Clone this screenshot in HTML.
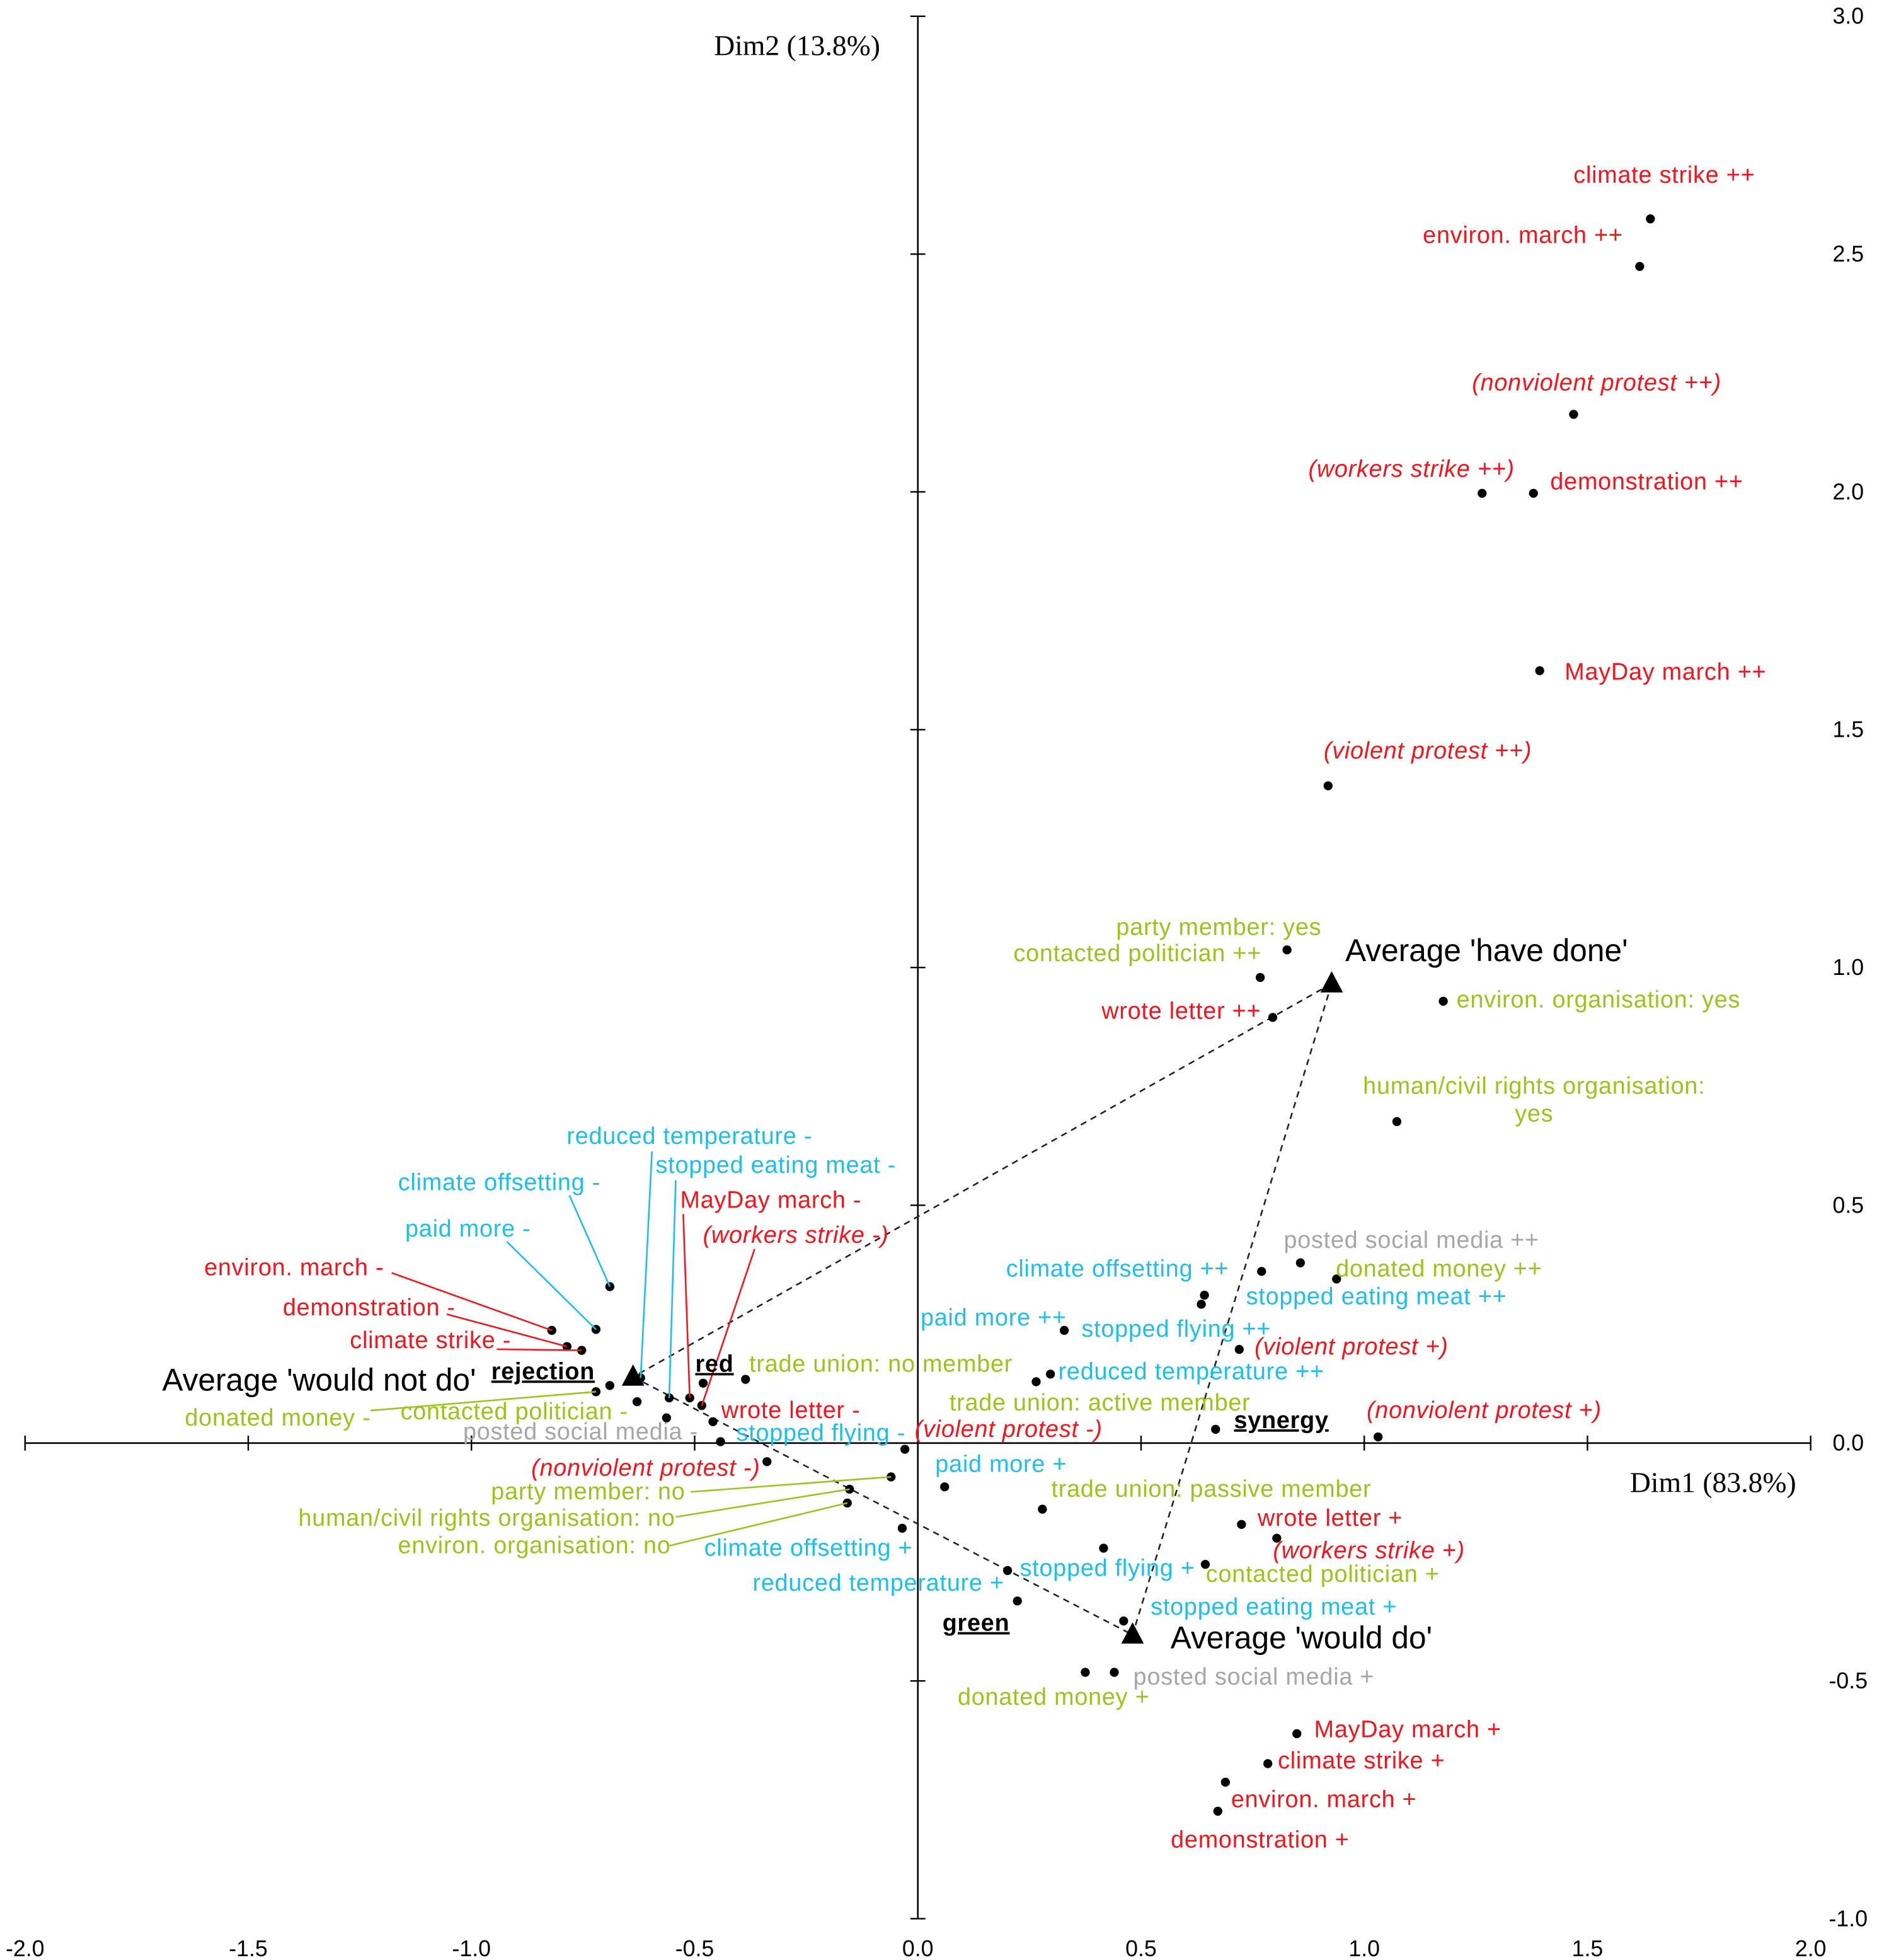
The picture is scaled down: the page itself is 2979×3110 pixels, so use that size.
<!DOCTYPE html>
<html><head><meta charset="utf-8"><style>
html,body{margin:0;padding:0;background:#fff;}
svg{display:block;font-family:"Liberation Sans",sans-serif;}
</style></head><body>
<svg id="chart" width="2979" height="3110" viewBox="0 0 1500 1566" xmlns="http://www.w3.org/2000/svg">
<g id="axes"></g>
<g id="lines"></g>
<g id="marks"></g>
<g id="labels"></g>
</svg>
<script>
const xTicks = [-2.0,-1.5,-1.0,-0.5,0.0,0.5,1.0,1.5,2.0];
const yTicks = [-1.0,-0.5,0.0,0.5,1.0,1.5,2.0,2.5,3.0];
// point names, coordinates (Dim1, Dim2), colour group
const names = ["climate strike ++","environ. march ++","(nonviolent protest ++)","(workers strike ++)","demonstration ++","MayDay march ++","(violent protest ++)","wrote letter ++","party member: yes","contacted politician ++","environ. organisation: yes","human/civil rights organisation: yes","posted social media ++","donated money ++","climate offsetting ++","stopped eating meat ++","stopped flying ++","paid more ++","(violent protest +)","reduced temperature ++","trade union: active member","(nonviolent protest +)","synergy","paid more +","trade union: passive member","wrote letter +","(workers strike +)","contacted politician +","stopped flying +","stopped eating meat +","reduced temperature +","climate offsetting +","green","donated money +","posted social media +","MayDay march +","climate strike +","environ. march +","demonstration +","climate offsetting -","paid more -","environ. march -","demonstration -","climate strike -","reduced temperature -","stopped eating meat -","MayDay march -","(workers strike -)","rejection","red","trade union: no member","donated money -","contacted politician -","wrote letter -","posted social media -","stopped flying -","(violent protest -)","(nonviolent protest -)","party member: no","human/civil rights organisation: no","environ. organisation: no"];
const dim1 = [1.641,1.617,1.469,1.264,1.379,1.393,0.919,0.795,0.827,0.767,1.177,1.073,0.770,0.857,0.642,0.938,0.635,0.328,0.720,0.297,0.265,1.031,0.667,0.060,0.279,0.725,0.804,0.644,0.416,0.461,0.201,-0.035,0.223,0.375,0.440,0.849,0.784,0.689,0.672,-0.690,-0.721,-0.820,-0.786,-0.753,-0.621,-0.557,-0.511,-0.484,-0.690,-0.481,-0.386,-0.721,-0.629,-0.459,-0.563,-0.442,-0.029,-0.338,-0.060,-0.153,-0.158];
const dim2 = [2.574,2.474,2.163,1.997,1.997,1.624,1.382,0.895,1.037,0.979,0.929,0.676,0.361,0.379,0.311,0.345,0.292,0.237,0.197,0.145,0.129,0.013,0.029,-0.092,-0.139,-0.171,-0.200,-0.255,-0.221,-0.374,-0.268,-0.179,-0.332,-0.482,-0.482,-0.611,-0.674,-0.713,-0.774,0.329,0.239,0.237,0.203,0.195,0.137,0.095,0.095,0.079,0.121,0.126,0.134,0.108,0.087,0.045,0.053,0.003,-0.013,-0.039,-0.071,-0.097,-0.126];
const groups = ["r","r","ri","ri","r","r","ri","r","g","g","g","g","y","g","b","b","b","b","ri","b","g","ri","k","b","g","r","ri","g","b","b","b","b","k","g","y","r","r","r","r","b","b","r","r","r","b","b","r","ri","k","k","g","g","g","r","y","b","ri","ri","g","g","g"];
const avgNames = ["Average 'have done'","Average 'would not do'","Average 'would do'"];
const avgDim1 = [0.927,-0.638,0.481];
const avgDim2 = [0.966,0.139,-0.403];
// layout: label anchor positions (pixels) and optional leader-line starts
const labelPos = [[1330,146],[1217,194],[1276,312],[1128,381],[1316,391],[1331,543],[1141,606],[944,814],[974,747],[909,768],[1164,805,'start'],[1226,874],[1128,997],[1150,1020],[893,1020],[1100,1042],[940,1068],[794,1059],[1080,1082],[952,1102],[879,1127],[1186,1133],[1024,1141],[800,1176],[968,1196],[1063,1219],[1094,1245],[1057,1264],[885,1259],[1018,1290],[702,1271],[646,1243],[780,1303],[842,1362],[1002,1346],[1125,1388],[1088,1413],[1058,1444],[1007,1476],[399,951],[374,988],[235,1019],[295,1051],[344,1077],[551,914],[620,937],[616,965],[636,993],[434,1102],[571,1096],[704,1096],[222,1139],[411,1134],[632,1133],[464,1150],[656,1151],[806,1148],[516,1179],[470,1198],[389,1219],[427,1241]];
const leaders = {39:[455,955],40:[405,992],41:[313,1017],42:[357,1050],43:[397,1078],44:[521,920],45:[540,943],46:[546,970],47:[603,998],51:[296,1127],58:[552,1192],59:[540,1212],60:[535,1235]};
const colors = {r:"#f5141e",ri:"#f5141e",g:"#9bc31e",b:"#1ebeeb",y:"#a6a6a6",k:"#000"};
const avgLabelPos = [[1188,768],[255,1111],[1040,1317]];

const NS="http://www.w3.org/2000/svg";
const X = v => 733.5 + v*356.75;
const Y = v => 1153 - v*380;
function mk(tag, attrs, parent, text){const e=document.createElementNS(NS,tag);for(const k in attrs)e.setAttribute(k,attrs[k]);if(text!==undefined)e.textContent=text;parent.appendChild(e);return e;}
const axes=document.getElementById('axes'), lines=document.getElementById('lines'), marks=document.getElementById('marks'), labels=document.getElementById('labels');

let a=mk('line',{x1:X(-2),y1:Y(0),x2:X(2),y2:Y(0),stroke:"#000","stroke-width":1.3},axes);


a=mk('line',{x1:X(0),y1:Y(3),x2:X(0),y2:Y(-1),stroke:"#000","stroke-width":1.3},axes);


xTicks.forEach(t=>{
  let tk=mk('line',{x1:X(t),y1:Y(0)-6,x2:X(t),y2:Y(0)+6,stroke:"#000","stroke-width":1.2},axes);
  
  
  let tl=mk('text',{x:X(t),y:1563,"text-anchor":"middle","font-size":18,fill:"#000"},axes,t.toFixed(1));
  
  
});
yTicks.forEach(t=>{
  let tk=mk('line',{x1:X(0)-6,y1:Y(t),x2:X(0)+6,y2:Y(t),stroke:"#000","stroke-width":1.2},axes);
  
  
  let tl=mk('text',{x:1477,y:Y(t)+6,"text-anchor":"middle","font-size":18,fill:"#000"},axes,t.toFixed(1));
  
  
});
let at=mk('text',{x:637,y:44,"text-anchor":"middle","font-size":23,"font-family":"Liberation Serif, serif"},axes,"Dim2 (13.8%)");


at=mk('text',{x:1369,y:1192,"text-anchor":"middle","font-size":23,"font-family":"Liberation Serif, serif"},axes,"Dim1 (83.8%)");



[[0,1],[0,2],[1,2]].forEach(([i,j])=>{
  const l=mk('line',{x1:X(avgDim1[i]),y1:Y(avgDim2[i]),x2:X(avgDim1[j]),y2:Y(avgDim2[j]),stroke:"#222","stroke-width":1.3,"stroke-dasharray":"5,4"},lines);
  
  
});

names.forEach((n,i)=>{
  const px=X(dim1[i]), py=Y(dim2[i]);
  const c=mk('circle',{cx:px,cy:py,r:3.6,fill:"#000"},marks);
  
  
  const col=colors[groups[i]];
  if(leaders[i]){
    const l=mk('line',{x1:leaders[i][0],y1:leaders[i][1],x2:px,y2:py,stroke:col,"stroke-width":1.3},labels);
    
    
  }
  const p=labelPos[i];
  const attrs={x:p[0],y:p[1],"text-anchor":p[2]||"middle","font-size":19,"letter-spacing":0.4,fill:col};
  if(groups[i]==="ri") attrs["font-style"]="italic";
  if(groups[i]==="k"){attrs["font-weight"]="bold";attrs["text-decoration"]="underline";}
  if(n==="human/civil rights organisation: yes"){
    const t=mk('text',attrs,labels,"human/civil rights organisation:");
    
    
    const t2=mk('text',{x:p[0],y:p[1]+22,"text-anchor":"middle","font-size":19,"letter-spacing":0.4,fill:col},labels,"yes");
    
    
  } else {
    const t=mk('text',attrs,labels,n);
    
    
  }
});

avgNames.forEach((n,i)=>{
  const px=X(avgDim1[i]), py=Y(avgDim2[i]);
  const tr=mk('polygon',{points:`${px},${py-10} ${px-9},${py+7} ${px+9},${py+7}`,fill:"#000"},marks);
  
  
  const t=mk('text',{x:avgLabelPos[i][0],y:avgLabelPos[i][1],"text-anchor":"middle","font-size":25,fill:"#000"},labels,n);
  
  
});
</script>
</body></html>
